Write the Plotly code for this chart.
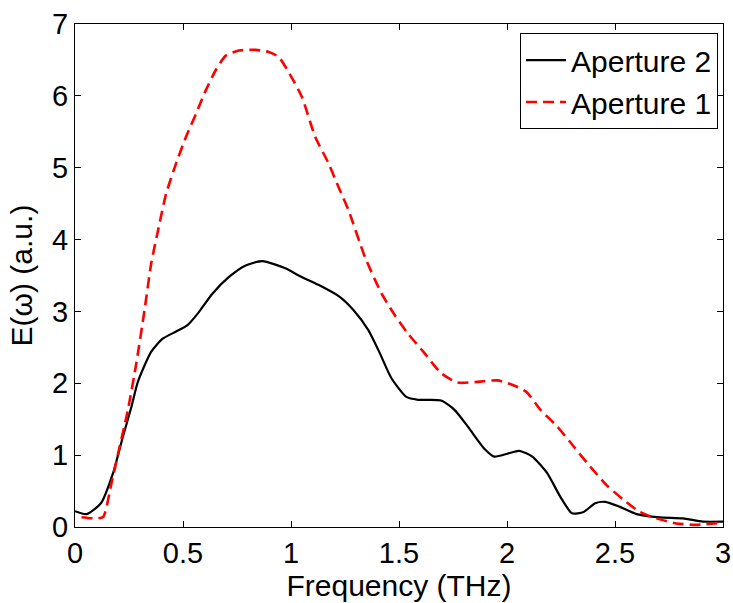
import plotly.graph_objects as go

# Aperture 2 (black solid)
freq_ap2 = [0.0, 0.054, 0.12, 0.176, 0.222, 0.261, 0.291, 0.353, 0.406, 0.468, 0.521, 0.568,
            0.637, 0.713, 0.79, 0.867, 0.974, 1.035, 1.127, 1.227, 1.289, 1.358, 1.411, 1.465,
            1.534, 1.588, 1.695, 1.757, 1.818, 1.864, 1.895, 1.941, 2.002, 2.056, 2.117, 2.186,
            2.247, 2.301, 2.355, 2.408, 2.454, 2.523, 2.60, 2.707, 2.815, 2.907, 3.0]
e_ap2 = [0.22, 0.18, 0.33, 0.75, 1.26, 1.67, 2.02, 2.44, 2.62, 2.72, 2.81, 2.97,
         3.25, 3.48, 3.64, 3.70, 3.60, 3.50, 3.37, 3.20, 3.02, 2.74, 2.42, 2.07,
         1.81, 1.77, 1.76, 1.63, 1.40, 1.21, 1.09, 0.98, 1.02, 1.06, 0.98, 0.75,
         0.42, 0.19, 0.21, 0.33, 0.35, 0.28, 0.18, 0.135, 0.12, 0.075, 0.075]

# Aperture 1 (red dashed)
freq_ap1 = [0.03, 0.092, 0.13, 0.169, 0.207, 0.245, 0.284, 0.322, 0.353, 0.391, 0.422, 0.468,
            0.514, 0.56, 0.606, 0.652, 0.698, 0.759, 0.836, 0.897, 0.943, 0.989, 1.051, 1.112,
            1.174, 1.22, 1.266, 1.342, 1.419, 1.48, 1.542, 1.618, 1.695, 1.772, 1.864, 1.956,
            2.032, 2.09, 2.155, 2.232, 2.309, 2.385, 2.462, 2.539, 2.615, 2.692, 2.784, 2.876, 3.0]
e_ap1 = [0.135, 0.12, 0.14, 0.61, 1.12, 1.63, 2.28, 3.02, 3.67, 4.22, 4.64, 5.06,
         5.43, 5.75, 6.08, 6.36, 6.56, 6.63, 6.64, 6.61, 6.54, 6.33, 5.98, 5.43,
         5.06, 4.73, 4.41, 3.76, 3.25, 2.95, 2.69, 2.42, 2.14, 2.01, 2.02, 2.04,
         1.97, 1.88, 1.63, 1.40, 1.12, 0.84, 0.58, 0.38, 0.21, 0.12, 0.05, 0.03, 0.06]

x_ticks = [0, 0.5, 1, 1.5, 2, 2.5, 3]
x_ticklabels = ["0", "0.5", "1", "1.5", "2", "2.5", "3"]
y_ticks = [0, 1, 2, 3, 4, 5, 6, 7]

FONT = "Liberation Sans, Arial, Helvetica, sans-serif"

fig = go.Figure()
fig.add_trace(go.Scatter(x=freq_ap2, y=e_ap2, mode="lines", name="Aperture 2",
                         line=dict(color="black", width=2.2, shape="spline", smoothing=0.6)))
fig.add_trace(go.Scatter(x=freq_ap1, y=e_ap1, mode="lines", name="Aperture 1",
                         line=dict(color="#ff0000", width=2.6, dash="11px,6px",
                                   shape="spline", smoothing=0.6)))

axis_common = dict(showline=True, linecolor="black", linewidth=1, mirror="ticks",
                   ticks="inside", ticklen=6, tickcolor="black", tickwidth=1,
                   showgrid=False, zeroline=False, ticklabeloverflow="allow",
                   automargin=False,
                   tickfont=dict(family=FONT, size=29, color="black"))

fig.update_layout(
    width=733, height=603,
    margin=dict(l=75, r=10, t=24, b=76),
    paper_bgcolor="white", plot_bgcolor="white",
    showlegend=True,
    legend=dict(x=0.9923, y=0.982, xanchor="right", yanchor="top",
                bgcolor="white", bordercolor="black", borderwidth=1,
                font=dict(family=FONT, size=30, color="black"),
                itemwidth=40, tracegroupgap=0),
    xaxis=dict(range=[0, 3], tickvals=x_ticks, ticktext=x_ticklabels,
               title=dict(text="Frequency (THz)", standoff=4,
                          font=dict(family=FONT, size=30, color="black")),
               **axis_common),
    yaxis=dict(range=[0, 7], tickvals=y_ticks,
               title=dict(text="E(ω) (a.u.)", standoff=10,
                          font=dict(family=FONT, size=30, color="black")),
               **axis_common),
)

fig.write_html("out.html")
